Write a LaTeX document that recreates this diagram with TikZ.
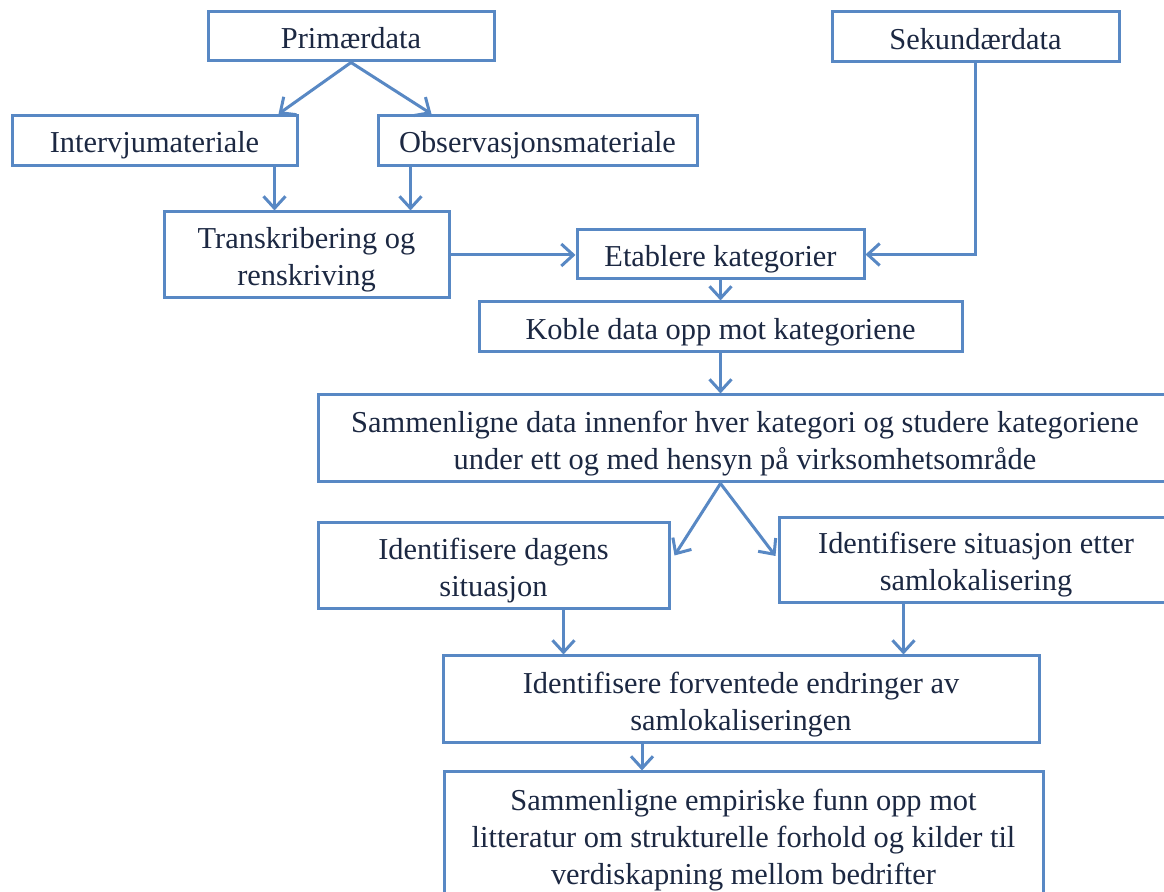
\documentclass[tikz,border=0pt]{standalone}
\usepackage{fontspec}
\setmainfont{Liberation Serif}
\usetikzlibrary{arrows.meta}
\definecolor{boxblue}{RGB}{88,136,196}
\definecolor{txtnavy}{RGB}{28,40,66}
\newcommand\boxtext[1]{\raisebox{-2.5pt}[\height][\depth]{\begin{tabular}{@{}c@{}}#1\end{tabular}}}
\tikzset{
  stepbox/.style={draw=boxblue, line width=1.5pt, text=txtnavy,
    font=\fontsize{15.2pt}{18.4pt}\selectfont, inner sep=0pt, fill=white},
  arr/.style={draw=boxblue, line width=1.5pt, -{Straight Barb[length=6pt,width=11pt,line width=1.5pt]}},
}
\begin{document}
\begin{tikzpicture}[x=0.5pt,y=-0.5pt]
\useasboundingbox (0,0) rectangle (1164,892);
\clip (0,0) rectangle (1164,892);
\fill[white] (0,0) rectangle (1164,892);

\node[stepbox, minimum width=143pt, minimum height=24.5pt] (prim) at (351,36.5) {\boxtext{Primærdata}};
\node[stepbox, minimum width=143.5pt, minimum height=25pt] (sek) at (975.5,37) {\boxtext{Sekundærdata}};
\node[stepbox, minimum width=142.5pt, minimum height=25pt] (int) at (154.5,140.5) {\boxtext{Intervjumateriale}};
\node[stepbox, minimum width=159.5pt, minimum height=25pt] (obs) at (537.5,140.5) {\boxtext{Observasjonsmateriale}};
\node[stepbox, minimum width=142.5pt, minimum height=43pt] (trans) at (306.5,255) {\boxtext{Transkribering og\\renskriving}};
\node[stepbox, minimum width=143.5pt, minimum height=24.5pt] (etab) at (720.5,254.5) {\boxtext{Etablere kategorier}};
\node[stepbox, minimum width=241.5pt, minimum height=25pt] (koble) at (720.5,327) {\boxtext{Koble data opp mot kategoriene}};
\node[stepbox, minimum width=427pt, minimum height=43.5pt] (samm) at (745,438.5) {\boxtext{Sammenligne data innenfor hver kategori og studere kategoriene\\under ett og med hensyn på virksomhetsområde}};
\node[stepbox, minimum width=175.5pt, minimum height=43pt] (dag) at (493.5,566) {\boxtext{Identifisere dagens\\situasjon}};
\node[stepbox, minimum width=197pt, minimum height=42.5pt] (etter) at (976,560) {\boxtext{Identifisere situasjon etter\\samlokalisering}};
\node[stepbox, minimum width=298pt, minimum height=43.5pt] (forv) at (741,699.5) {\boxtext{Identifisere forventede endringer av\\samlokaliseringen}};
\node[stepbox, minimum width=299.5pt, minimum height=63pt] (emp) at (743.5,835) {\boxtext{Sammenligne empiriske funn opp mot\\litteratur om strukturelle forhold og kilder til\\verdiskapning mellom bedrifter}};

\coordinate (pfork) at (prim.south);
\draw[arr] (pfork) -- ([xshift=-10pt]int.north east);
\draw[arr] (pfork) -- ([xshift=27.5pt]obs.north west);
\draw[arr] ([xshift=-12pt]int.south east) -- ([xshift=-12pt]int.south east |- trans.north);
\draw[arr] ([xshift=17pt]obs.south west) -- ([xshift=17pt]obs.south west |- trans.north);
\draw[arr] (trans.east) -- (trans.east -| etab.west);
\draw[arr] (sek.south) -- (sek.south |- etab.east) -- (etab.east);
\draw[arr] (etab.south) -- (koble.north);
\draw[arr] (koble.south) -- (koble.south |- samm.north);
\coordinate (sfork) at (koble.south |- samm.south);
\draw[arr] (sfork) -- ([yshift=-17pt,xshift=2pt]dag.north east);
\draw[arr] (sfork) -- ([yshift=-20pt,xshift=-1pt]etter.north west);
\draw[arr] ([xshift=-53.5pt]dag.south east) -- ([xshift=-53.5pt]dag.south east |- forv.north);
\draw[arr] ([xshift=63pt]etter.south west) -- ([xshift=63pt]etter.south west |- forv.north);
\draw[arr] ([xshift=-49.5pt]forv.south) -- ([xshift=-49.5pt]forv.south |- emp.north);
\end{tikzpicture}
\end{document}
